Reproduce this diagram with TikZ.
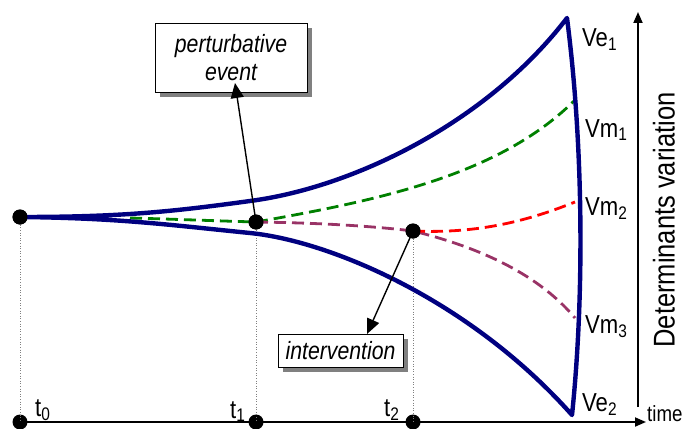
\documentclass[tikz,border=0pt]{standalone}
\usepackage{fontspec}
\setmainfont{Liberation Sans}[FakeStretch=0.85]
\usetikzlibrary{arrows.meta,shadows}
\definecolor{myNavy}{RGB}{0,0,128}
\definecolor{myGreen}{RGB}{0,128,0}
\definecolor{myRed}{RGB}{255,0,0}
\definecolor{myPurple}{RGB}{153,51,102}
\begin{document}
\begin{tikzpicture}[x=1pt,y=-1pt,
  dot/.style={circle,fill=black,inner sep=0pt,minimum size=15pt},
  envelope/.style={myNavy,line width=4.4pt,line cap=round,line join=round},
  mpath/.style={line width=2.8pt,dash pattern=on 12pt off 6pt},
  guide/.style={gray,line width=0.6pt,dotted},
  axis/.style={line width=1.8pt,-{Triangle[length=11pt,width=9pt]}},
  pointer/.style={line width=1.4pt,-{Triangle[length=15pt,width=13pt]}},
  lbl/.style={font=\fontsize{26}{28}\selectfont,inner sep=0pt,anchor=base west},
  callout/.style={draw=black,line width=0.8pt,fill=white,inner sep=0pt,align=center,
    font=\fontsize{25}{28}\selectfont\itshape,
    drop shadow={shadow xshift=5pt,shadow yshift=-5pt,fill=gray,opacity=1}}]
\useasboundingbox (0,0) rectangle (690,428);

% axes
\coordinate (hstart) at (20,422);
\coordinate (hend) at (646,422);
\coordinate (vstart) at (638,407);
\coordinate (vend) at (638,12);
\draw[axis] (hstart) -- (hend);
\draw[axis] (vstart) -- (vend);

% points
\node[dot] (s0) at (20,217) {};
\node[dot] (t1) at (256,222) {};
\node[dot] (t2) at (413,231) {};
\node[dot] (a0) at (20,422) {};
\node[dot] (a1) at (256,422) {};
\node[dot] (a2) at (413,422) {};
\coordinate (ve1) at (567,18);
\coordinate (ve2) at (572,415);
\coordinate (gstart) at (130,218);
\coordinate (vm1) at (575,100);
\coordinate (vm2) at (575,202);
\coordinate (vm3) at (575,318);

% guides
\draw[guide] (s0.center) -- (a0.center);
\draw[guide] (t1.center) -- (a1.center);
\draw[guide] (t2.center) -- (a2.center);

% dashed paths
\draw[mpath,myGreen] (gstart) .. controls (170,219) and (220,221) .. (t1.center)
   .. controls (380,200) and (500,175) .. (vm1);
\draw[mpath,myPurple] (t1.center) .. controls (330,223) and (380,227) .. (t2.center)
   .. controls (470,245) and (535,270) .. (vm3);
\draw[mpath,myRed] (t2.center) .. controls (480,234) and (530,220) .. (vm2);

% envelope
\draw[envelope] (s0.center) .. controls (120,217) and (170,212) .. (250,201)
   .. controls (350,188) and (485,125) .. (ve1)
   .. controls (584,150) and (584,300) .. (ve2)
   .. controls (470,300) and (330,241) .. (250,233)
   .. controls (170,225) and (120,218) .. (s0.center);

% redraw dots on top
\node[dot] at (s0) {};
\node[dot] at (t1) {};
\node[dot] at (t2) {};

% callouts
\node[callout,minimum width=152pt,minimum height=69pt] (pert) at (231,57.5) {perturbative\\event};
\node[callout,minimum width=125pt,minimum height=33pt] (interv) at (340.5,350.5) {intervention};
\coordinate (ptip) at (235,83);
\coordinate (itip) at (367,334);
\draw[pointer] (t1.center) -- (ptip);
\draw[pointer] (t2.center) -- (itip);

% labels
\node[lbl] (lVe1) at (582,47) {Ve\textsubscript{1}};
\node[lbl] (lVm1) at (585,137) {Vm\textsubscript{1}};
\node[lbl] (lVm2) at (585,215) {Vm\textsubscript{2}};
\node[lbl] (lVm3) at (585,333) {Vm\textsubscript{3}};
\node[lbl] (lVe2) at (582,411) {Ve\textsubscript{2}};
\node[lbl] (lt0) at (35,416) {t\textsubscript{0}};
\node[lbl] (lt1) at (230,418) {t\textsubscript{1}};
\node[lbl] (lt2) at (384,416) {t\textsubscript{2}};
\node[lbl,font=\fontsize{22}{24}\selectfont] (ltime) at (647,421) {time};
\node[font=\fontsize{30}{32}\selectfont,rotate=90,inner sep=0pt] (ldet) at (664,220) {Determinants variation};
\end{tikzpicture}
\end{document}
